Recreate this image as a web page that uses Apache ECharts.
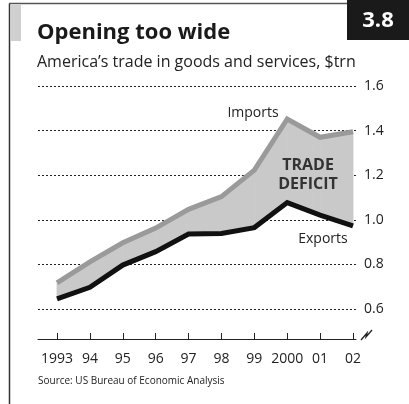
<!DOCTYPE html>
<html>
<head>
<meta charset="utf-8">
<script src="https://cdn.jsdelivr.net/npm/echarts@6/dist/echarts.min.js"></script>
<style>
html,body{margin:0;padding:0;background:#fff;}
#c{width:409px;height:404px;}
</style>
</head>
<body>
<div id="c"></div>
<script>
var years = [1993, 1994, 1995, 1996, 1997, 1998, 1999, 2000, 2001, 2002];
var yearLabels = ['1993', '94', '95', '96', '97', '98', '99', '2000', '01', '02'];
var imports = [0.717, 0.811, 0.897, 0.963, 1.047, 1.104, 1.223, 1.452, 1.370, 1.395];
var exportsV = [0.645, 0.697, 0.797, 0.857, 0.936, 0.939, 0.965, 1.077, 1.021, 0.973];
var yTicks = [0.6, 0.8, 1.0, 1.2, 1.4, 1.6];

var FONT = '"Open Sans", "Noto Sans", sans-serif';

var exportsData = years.map(function (y, i) { return [y, exportsV[i]]; });
var importsData = years.map(function (y, i) { return [y, imports[i]]; });
var bandData = years.map(function (y, i) { return [y, imports[i], exportsV[i]]; });

function renderBand(params, api) {
  var i = params.dataIndex;
  if (i >= years.length - 1) return null;
  var a1 = api.coord([years[i], imports[i]]);
  var a2 = api.coord([years[i + 1], imports[i + 1]]);
  var b2 = api.coord([years[i + 1], exportsV[i + 1]]);
  var b1 = api.coord([years[i], exportsV[i]]);
  return {
    type: 'polygon',
    shape: { points: [a1, a2, b2, b1] },
    style: { fill: '#c9c9ca', stroke: '#c9c9ca', lineWidth: 0.8 }
  };
}

var chart = echarts.init(document.getElementById('c'), null, { renderer: 'canvas' });
chart.setOption({
  animation: false,
  backgroundColor: '#fff',
  grid: { left: 38, right: 53, top: 86, bottom: 95 },
  xAxis: {
    type: 'value',
    min: 1992.422,
    max: 2002.091,
    offset: 30,
    splitLine: { show: false },
    axisLine: { show: true, lineStyle: { color: '#222', width: 1 } },
    axisTick: { show: true, inside: true, length: 6, customValues: years, lineStyle: { color: '#222', width: 1 } },
    axisLabel: {
      customValues: years,
      margin: 13,
      color: '#222',
      fontFamily: FONT,
      fontSize: 14,
      formatter: function (v) { return yearLabels[years.indexOf(Math.round(v))]; }
    }
  },
  yAxis: {
    type: 'value',
    position: 'right',
    min: 0.6,
    max: 1.6,
    interval: 0.2,
    axisLine: { show: false },
    axisTick: { show: false },
    splitLine: { show: true, lineStyle: { color: '#222', width: 1, type: [2, 2] } },
    axisLabel: {
      margin: 8,
      color: '#222',
      fontFamily: FONT,
      fontSize: 14,
      formatter: function (v) { return v.toFixed(1); }
    }
  },
  series: [
    {
      type: 'custom', data: bandData, renderItem: renderBand,
      encode: { x: 0, y: [1, 2] }, z: 2, silent: true
    },
    {
      type: 'line', data: importsData, symbol: 'none',
      lineStyle: { color: '#9a9a9a', width: 5, join: 'miter' }, z: 3
    },
    {
      type: 'line', data: exportsData, symbol: 'none',
      lineStyle: { color: '#111', width: 5, join: 'miter' }, z: 4
    }
  ],
  graphic: [
    { type: 'line', z: 100, shape: { x1: 9.5, y1: 3.5, x2: 9.5, y2: 404 }, style: { stroke: '#333', lineWidth: 1.5 } },
    { type: 'line', z: 100, shape: { x1: 9, y1: 3.5, x2: 347, y2: 3.5 }, style: { stroke: '#555', lineWidth: 1.5 } },
    { type: 'rect', z: 100, shape: { x: 11, y: 5, width: 10, height: 36 }, style: { fill: '#d0d0d0' } },
    { type: 'rect', z: 100, shape: { x: 347, y: 0, width: 62, height: 40 }, style: { fill: '#1a1a1a' } },
    { type: 'text', z: 101, x: 378, y: 21, style: { text: '3.8', fill: '#fff', font: 'bold 22px ' + FONT, align: 'center', verticalAlign: 'middle' } },
    { type: 'text', z: 100, x: 37, y: 33, style: { text: 'Opening too wide', fill: '#1a1a1a', font: 'bold 22px ' + FONT, align: 'left', verticalAlign: 'middle' } },
    { type: 'text', z: 100, x: 37, y: 62, style: { text: 'America\u2019s trade in goods and services, $trn', fill: '#222', font: '16px ' + FONT, align: 'left', verticalAlign: 'middle' } },
    { type: 'text', z: 100, x: 253, y: 113, style: { text: 'Imports', fill: '#222', font: '14px ' + FONT, align: 'center', verticalAlign: 'middle' } },
    { type: 'text', z: 100, x: 308, y: 165, style: { text: 'TRADE', fill: '#333', font: 'bold 16px ' + FONT, align: 'center', verticalAlign: 'middle' } },
    { type: 'text', z: 100, x: 308, y: 184, style: { text: 'DEFICIT', fill: '#333', font: 'bold 16px ' + FONT, align: 'center', verticalAlign: 'middle' } },
    { type: 'text', z: 100, x: 323, y: 239, style: { text: 'Exports', fill: '#222', font: '14px ' + FONT, align: 'center', verticalAlign: 'middle' } },
    { type: 'polyline', z: 100, shape: { points: [[361, 340], [367, 333], [366, 337], [372, 330]] }, style: { stroke: '#222', lineWidth: 1.3, fill: null } },
    { type: 'text', z: 100, x: 38, y: 381, style: { text: 'Source: US Bureau of Economic Analysis', fill: '#222', font: '10px ' + FONT, align: 'left', verticalAlign: 'middle' } }
  ]
});
</script>
</body>
</html>
